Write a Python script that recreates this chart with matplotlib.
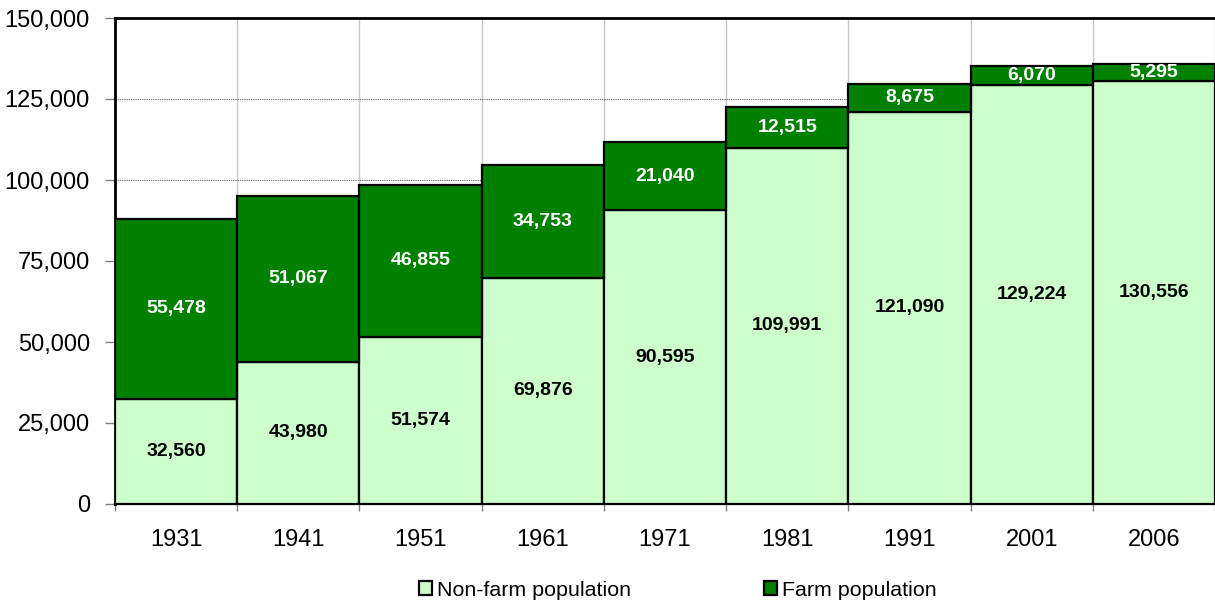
import matplotlib
matplotlib.use("Agg")
import matplotlib.pyplot as plt
import numpy as np

plt.rcParams['font.family'] = ['Liberation Sans', 'DejaVu Sans']

years = ["1931", "1941", "1951", "1961", "1971", "1981", "1991", "2001", "2006"]
non_farm = [32560, 43980, 51574, 69876, 90595, 109991, 121090, 129224, 130556]
farm = [55478, 51067, 46855, 34753, 21040, 12515, 8675, 6070, 5295]

light = "#CCFFCC"
dark = "#008000"

fig = plt.figure(figsize=(12.15, 6.03), dpi=100)
ax = fig.add_axes([115 / 1215, 99 / 603, 1100 / 1215, 486 / 603])

x = np.arange(len(years))
b1 = ax.bar(x, non_farm, width=1.0, color=light, edgecolor="black", linewidth=1.6,
            label="Non-farm population", zorder=3)
b2 = ax.bar(x, farm, width=1.0, bottom=non_farm, color=dark, edgecolor="black",
            linewidth=1.6, label="Farm population", zorder=3)

for i in range(len(years)):
    ax.text(x[i], non_farm[i] / 2, f"{non_farm[i]:,}", ha="center", va="center",
            fontsize=14, fontweight="bold", color="black", zorder=4)
    ax.text(x[i], non_farm[i] + farm[i] / 2, f"{farm[i]:,}", ha="center", va="center",
            fontsize=14, fontweight="bold", color="white", zorder=4)

ax.set_xlim(-0.5, len(years) - 0.5)
ax.set_ylim(0, 150000)
ax.set_yticks(np.arange(0, 150001, 25000))
ax.set_yticklabels([f"{v:,}" for v in range(0, 150001, 25000)])

# category boundaries as major ticks, labels on minor ticks
ax.set_xticks(np.arange(-0.5, len(years), 1.0))
ax.set_xticklabels([])
ax.set_xticks(x, minor=True)
ax.set_xticklabels(years, minor=True)
ax.tick_params(axis="x", which="major", length=5, color="#808080", width=1)
ax.tick_params(axis="x", which="minor", length=0, pad=18, labelsize=17)
ax.tick_params(axis="y", length=7, color="#808080", width=1, pad=11, labelsize=17)

ax.grid(axis="x", which="major", color="#C8C8C8", linewidth=1, zorder=0)
ax.grid(axis="y", color="#606060", linestyle=(0, (1, 1)), linewidth=0.8, zorder=0)

for s in ["top", "left"]:
    ax.spines[s].set_linewidth(2)
    ax.spines[s].set_color("black")
ax.spines["right"].set_visible(False)
ax.spines["bottom"].set_linewidth(1.6)

fig.legend(handles=[b1, b2], loc="center", bbox_to_anchor=(678 / 1215, 1 - 590 / 603),
           ncol=2, frameon=False, fontsize=15.4, handlelength=0.6, handleheight=0.6,
           handletextpad=0.25, columnspacing=6.2)

fig.savefig("out.png", dpi=100)
